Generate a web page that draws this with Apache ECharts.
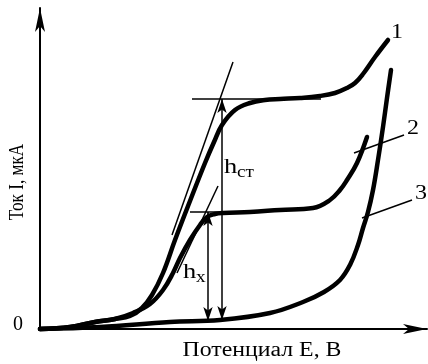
<!DOCTYPE html>
<html>
<head>
<meta charset="utf-8">
<script src="https://cdn.jsdelivr.net/npm/echarts@6/dist/echarts.min.js"></script>
<style>html,body{margin:0;padding:0;background:#fff}#c{width:428px;height:364px}</style>
</head>
<body>
<div id="c"></div>
<script>
// Curve 1 (standard solution)
const curve1E = [0,30,55,75,90,102,112,123,135,150,165,174,182,195,210,225,240,260,280,295,307,315,323,335,348];
const curve1I = [0,2,7,10,13,21,34,56,89,128,166,187,204,219,226,229,230,231,233,236,241,246,255,272,289];
// Curve 2 (sample)
const curve2E = [0,30,55,75,93,110,123,133,140,150,160,167,175,183,210,240,273,290,300,307,317,327];
const curve2I = [0,2,7,10,16,25,39,56,71,89,104,112,115,116,117,119,121,129,139,149,166,192];
// Curve 3 (background)
const curve3E = [0,60,130,180,230,263,284,300,310,318,323,328,333,338,343,347,351];
const curve3I = [0,2,7,9,16,27,37,49,64,84,101,117,139,169,202,231,259];
// construction lines [E1, I1, E2, I2]
const tangent1 = [193,267,132,94];
const plateau1 = [152,230,281,230];
const plateau2 = [150,117,210,117];
const tangent2 = [178,143,137,56];
const leader2 = [364,194,314,176];
const leader3 = [372,129,322,111];
// height arrows [E, Itop, Ibottom]
const hSt = [182,230,9];
const hX = [168,117,8];

const xMax = 387, yMax = 321;

function pairs(xs, ys){ return xs.map((x,i)=>[x, ys[i]]); }
function seg(a){ return [[a[0],a[1]],[a[2],a[3]]]; }

const thick = {color:'#000', width:4.5, cap:'round', join:'round'};
const thin = {color:'#000', width:1.5};

const serif = '"Liberation Serif", serif';

const chart = echarts.init(document.getElementById('c'), null, {renderer:'canvas'});
const curveSeries = (d) => ({type:'line', data:d, smooth:0.4, showSymbol:false, symbol:'none', lineStyle:thick, silent:true, clip:false, z:3});
const thinSeries = (d) => ({type:'line', data:d, showSymbol:false, symbol:'none', lineStyle:thin, silent:true, clip:false, z:2});

chart.setOption({
  animation:false,
  backgroundColor:'#fff',
  grid:{left:40, right:1, top:8, bottom:35},
  xAxis:{type:'value', min:0, max:xMax, axisLine:{show:true, onZero:false, symbol:['none','arrow'], symbolSize:[7.5,24], lineStyle:{color:'#000', width:2}}, axisTick:{show:false}, axisLabel:{show:false}, splitLine:{show:false}},
  yAxis:{type:'value', min:0, max:yMax, axisLine:{show:true, onZero:false, symbol:['none','arrow'], symbolSize:[7.5,24], lineStyle:{color:'#000', width:2}}, axisTick:{show:false}, axisLabel:{show:false}, splitLine:{show:false}},
  series:[
    curveSeries(pairs(curve3E, curve3I)),
    curveSeries(pairs(curve2E, curve2I)),
    curveSeries(pairs(curve1E, curve1I)),
    thinSeries(seg(tangent1)),
    thinSeries(seg(plateau1)),
    thinSeries(seg(plateau2)),
    thinSeries(seg(tangent2)),
    thinSeries(seg(leader2)),
    thinSeries(seg(leader3)),
    {type:'line', data:[], silent:true,
     markLine:{silent:true, symbol:['arrow','arrow'], symbolSize:[7,14], label:{show:false},
       lineStyle:{color:'#000', width:1.5, type:'solid'}, emphasis:{disabled:true},
       data:[
         [{coord:[hSt[0],hSt[1]]},{coord:[hSt[0],hSt[2]]}],
         [{coord:[hX[0],hX[1]]},{coord:[hX[0],hX[2]]}]
       ]}}
  ],
  graphic:[
    {type:'text', x:18, y:325, style:{text:'0', font:'20px '+serif, fill:'#000', align:'center', verticalAlign:'middle'}},
    {type:'text', x:17, y:182, rotation:Math.PI/2, scaleX:0.86, scaleY:1.1, style:{text:'Ток I, мкА', font:'20px '+serif, fill:'#000', align:'center', verticalAlign:'middle'}},
    {type:'text', x:262, y:351, scaleX:1.19, style:{text:'Потенциал E, В', font:'20px '+serif, fill:'#000', align:'center', verticalAlign:'middle'}},
    {type:'text', x:397, y:33, scaleX:1.2, style:{text:'1', font:'20px '+serif, fill:'#000', align:'center', verticalAlign:'middle'}},
    {type:'text', x:413, y:129, scaleX:1.2, style:{text:'2', font:'20px '+serif, fill:'#000', align:'center', verticalAlign:'middle'}},
    {type:'text', x:421, y:194, scaleX:1.2, style:{text:'3', font:'20px '+serif, fill:'#000', align:'center', verticalAlign:'middle'}},
    {type:'text', x:224, y:167, scaleX:1.2, style:{text:'h', font:'22px '+serif, fill:'#000', align:'left', verticalAlign:'middle'}},
    {type:'text', x:237, y:173, scaleX:1.2, style:{text:'ст', font:'16px '+serif, fill:'#000', align:'left', verticalAlign:'middle'}},
    {type:'text', x:183, y:272, scaleX:1.2, style:{text:'h', font:'22px '+serif, fill:'#000', align:'left', verticalAlign:'middle'}},
    {type:'text', x:196, y:278, scaleX:1.2, style:{text:'x', font:'16px '+serif, fill:'#000', align:'left', verticalAlign:'middle'}}
  ]
});
</script>
</body>
</html>
